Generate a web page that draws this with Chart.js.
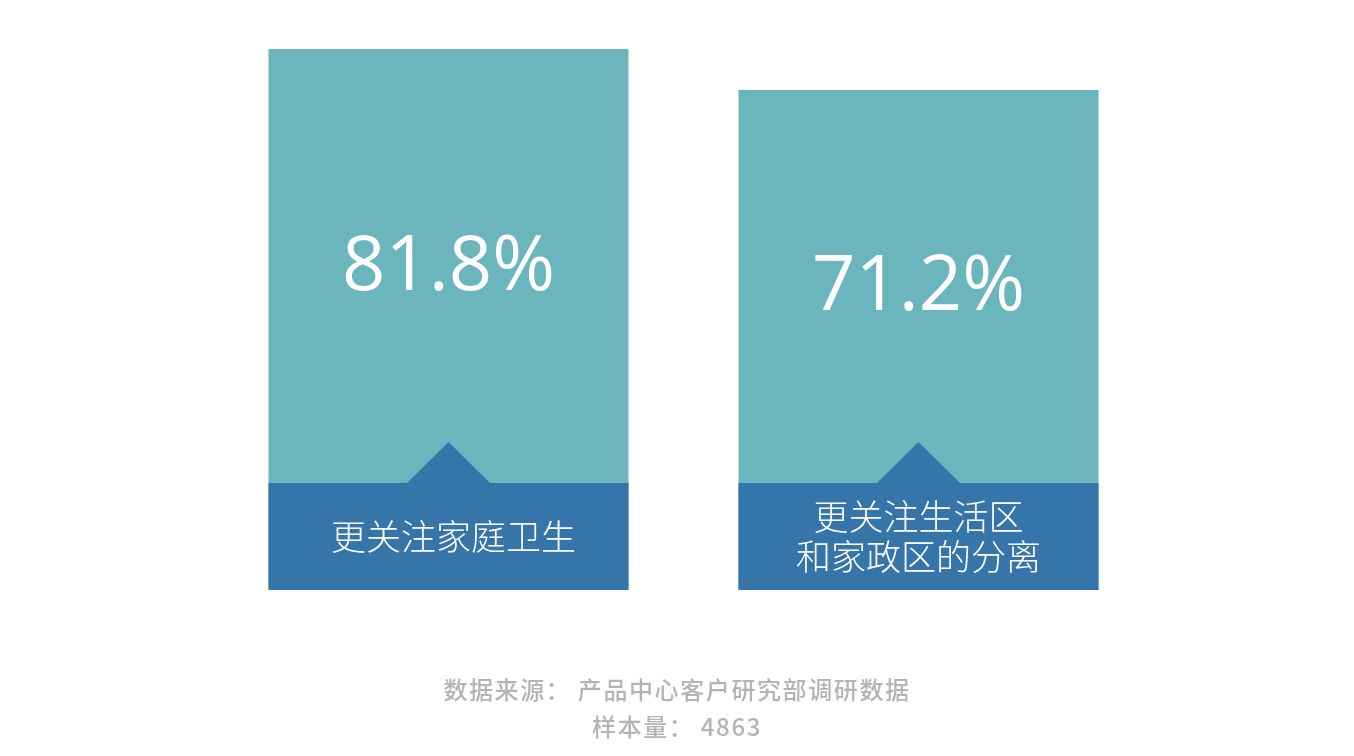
<!DOCTYPE html>
<html>
<head>
<meta charset="utf-8">
<script src="https://cdn.jsdelivr.net/npm/chart.js@4/dist/chart.umd.min.js"></script>
<style>
    html, body { margin: 0; padding: 0; background: #fff; }
    #wrap { position: relative; width: 1354px; height: 756px; }
    #note {
        position: absolute; left: 0; top: 670px; width: 1354px;
        text-align: center; color: #b4b4b4;
        font: 500 24px "Noto Sans CJK SC", sans-serif; line-height: 37px;
        letter-spacing: 1.6px;
    }
</style>
</head>
<body>
<div id="wrap">
    <canvas id="chart" width="1354" height="756"></canvas>
    <div id="note">数据来源：&thinsp;产品中心客户研究部调研数据<br>样本量：&thinsp;4863</div>
</div>
<script>
'use strict';

const categories = [['更关注家庭卫生'], ['更关注生活区', '和家政区的分离']];
const values     = [81.8, 71.2];

const Y_MIN = -58.1;
const Y_MAX = 94.5;

const TEAL = '#6bb5bc';
const BLUE = '#3575aa';

// blue label band + notch + texts drawn over each bar
const cardPlugin = {
    id: 'cards',
    afterDatasetsDraw(chart) {
        const ctx  = chart.ctx;
        const meta = chart.getDatasetMeta(0);
        meta.data.forEach((bar, i) => {
            const left    = bar.x - bar.width / 2;
            const bottom  = bar.base;
            const bandH   = 107;
            const bandTop = bottom - bandH;

            ctx.save();
            ctx.fillStyle = BLUE;
            ctx.fillRect(left, bandTop, bar.width, bandH);
            ctx.beginPath();
            ctx.moveTo(bar.x - 42, bandTop + 0.5);
            ctx.lineTo(bar.x, bandTop - 41);
            ctx.lineTo(bar.x + 42, bandTop + 0.5);
            ctx.closePath();
            ctx.fill();

            ctx.fillStyle = '#ffffff';
            ctx.textAlign = 'center';
            ctx.textBaseline = 'middle';
            ctx.font = '400 76px "Open Sans", sans-serif';
            ctx.fillText(values[i].toFixed(1) + '%', bar.x, (bar.y + bandTop) / 2 + 2);

            const lines = categories[i];
            ctx.font = '300 35px "Noto Sans CJK SC", sans-serif';
            const lh = 40;
            const cy = bandTop + bandH / 2;
            lines.forEach((t, j) => {
                ctx.fillText(t, bar.x + (lines.length === 1 ? 5 : 0), cy + (j - (lines.length - 1) / 2) * lh);
            });
            ctx.restore();
        });
    }
};

new Chart(document.getElementById('chart'), {
    type: 'bar',
    data: {
        labels: categories.map(c => c.join('')),
        datasets: [{
            data: values,
            base: Y_MIN,
            backgroundColor: TEAL,
            borderWidth: 0,
            barPercentage: 0.766,
            categoryPercentage: 1
        }]
    },
    options: {
        responsive: false,
        animation: false,
        layout: { padding: { left: 213.5, right: 200.5, top: 0, bottom: 166 } },
        plugins: { legend: { display: false }, tooltip: { enabled: false } },
        scales: {
            x: { display: false },
            y: { display: false, min: Y_MIN, max: Y_MAX }
        }
    },
    plugins: [cardPlugin]
});
</script>
</body>
</html>
